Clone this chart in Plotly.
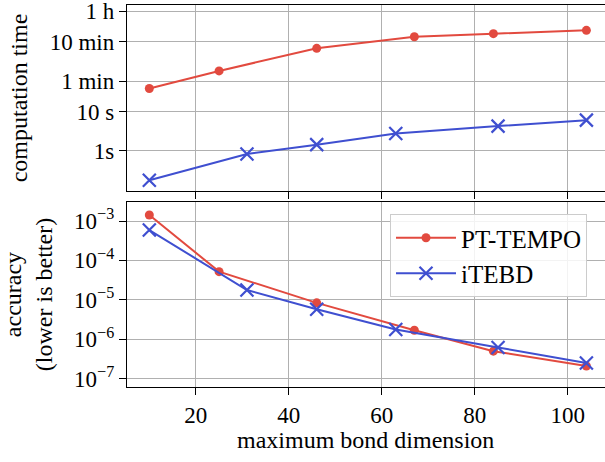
import plotly.graph_objects as go

# data
pt_x = [10, 25, 46, 67, 84, 104]
pt_time = [39, 109, 410, 809, 966, 1176]          # seconds
pt_acc = [1.42e-3, 5.2e-5, 8.4e-6, 1.7e-6, 5.0e-7, 2.1e-7]

it_x = [10, 31, 46, 63, 85, 104]
it_time = [0.18, 0.84, 1.45, 2.8, 4.3, 6.1]        # seconds
it_acc = [5.9e-4, 1.78e-5, 5.8e-6, 1.77e-6, 6.2e-7, 2.5e-7]

time_tickvals = [1, 10, 60, 600, 3600]
time_ticktext = ["1s", "10 s", "1 min", "10 min", "1 h"]
acc_tickvals = [1e-7, 1e-6, 1e-5, 1e-4, 1e-3]
acc_ticktext = ["10<sup>−7</sup>", "10<sup>−6</sup>", "10<sup>−5</sup>", "10<sup>−4</sup>", "10<sup>−3</sup>"]
x_tickvals = [20, 40, 60, 80, 100]

RED = "#e24a3f"
BLUE = "#3f4fd0"
FONT = "Liberation Serif"
TICKSZ = 23
TITLESZ = 24

fig = go.Figure()

red_marker = dict(symbol="circle", size=9, color=RED)
blue_marker = dict(symbol="x-thin", size=13, color=BLUE, line=dict(width=2.2, color=BLUE))

fig.add_trace(go.Scatter(x=pt_x, y=pt_time, mode="lines+markers", line=dict(color=RED, width=2),
                         marker=red_marker, xaxis="x", yaxis="y", showlegend=False))
fig.add_trace(go.Scatter(x=it_x, y=it_time, mode="lines+markers", line=dict(color=BLUE, width=2),
                         marker=blue_marker, xaxis="x", yaxis="y", showlegend=False))
fig.add_trace(go.Scatter(x=pt_x, y=pt_acc, mode="lines+markers", line=dict(color=RED, width=2),
                         marker=red_marker, xaxis="x2", yaxis="y2", name="PT-TEMPO"))
fig.add_trace(go.Scatter(x=it_x, y=it_acc, mode="lines+markers", line=dict(color=BLUE, width=2),
                         marker=blue_marker, xaxis="x2", yaxis="y2", name="iTEBD"))

W, H = 605, 462
xdom = [127 / W, 1.0]
top_dom = [(H - 191) / H, (H - 5) / H]
bot_dom = [(H - 387) / H, (H - 202) / H]

common_x = dict(range=[5.2, 108], tickvals=x_tickvals, showgrid=True, gridcolor="#b0b0b0", gridwidth=1,
                showline=True, linecolor="black", linewidth=1.4, mirror=True, automargin=False,
                ticks="outside", ticklen=7, tickwidth=1.3, tickcolor="black", zeroline=False,
                ticklabeloverflow="allow")
common_y = dict(type="log", showgrid=True, gridcolor="#b0b0b0", gridwidth=1,
                showline=True, linecolor="black", linewidth=1.4, mirror=False, automargin=False,
                ticks="outside", ticklen=7, tickwidth=1.3, tickcolor="black", zeroline=False,
                ticklabeloverflow="allow",
                tickfont=dict(size=TICKSZ, family=FONT, color="black"))

fig.update_layout(
    width=W, height=H,
    margin=dict(l=0, r=0, t=0, b=0),
    paper_bgcolor="white", plot_bgcolor="white",
    font=dict(family=FONT, color="black", size=TITLESZ),
    xaxis=dict(domain=xdom, anchor="y", showticklabels=False, matches="x2", **common_x),
    xaxis2=dict(domain=xdom, anchor="y2", showticklabels=True,
                tickfont=dict(size=TICKSZ, family=FONT, color="black"),
                **common_x),
    yaxis=dict(domain=top_dom, anchor="x", range=[-1.018, 3.715], tickvals=time_tickvals,
               ticktext=time_ticktext,
               title=dict(text="computation time", font=dict(size=TITLESZ, family=FONT)),
               **common_y),
    yaxis2=dict(domain=bot_dom, anchor="x2", range=[-7.21, -2.518], tickvals=acc_tickvals,
                ticktext=acc_ticktext,
                title=dict(text="accuracy<br>(lower is better)", font=dict(size=TITLESZ, family=FONT)),
                **common_y),
    legend=dict(x=390 / W, y=(H - 214) / H, xanchor="left", yanchor="top",
                bgcolor="rgba(255,255,255,0.85)", bordercolor="#cccccc", borderwidth=1,
                font=dict(size=25, family=FONT, color="black"), itemwidth=60,
                tracegroupgap=4),
    annotations=[dict(text="maximum bond dimension", x=0.5 * (xdom[0] + 1), y=(H - 440) / H,
                      xref="paper", yref="paper", xanchor="center", yanchor="middle",
                      showarrow=False, font=dict(size=TITLESZ, family=FONT, color="black"))],
)

fig.write_html("out.html", config={"displayModeBar": False},
               post_script="document.body.style.margin='0';")
